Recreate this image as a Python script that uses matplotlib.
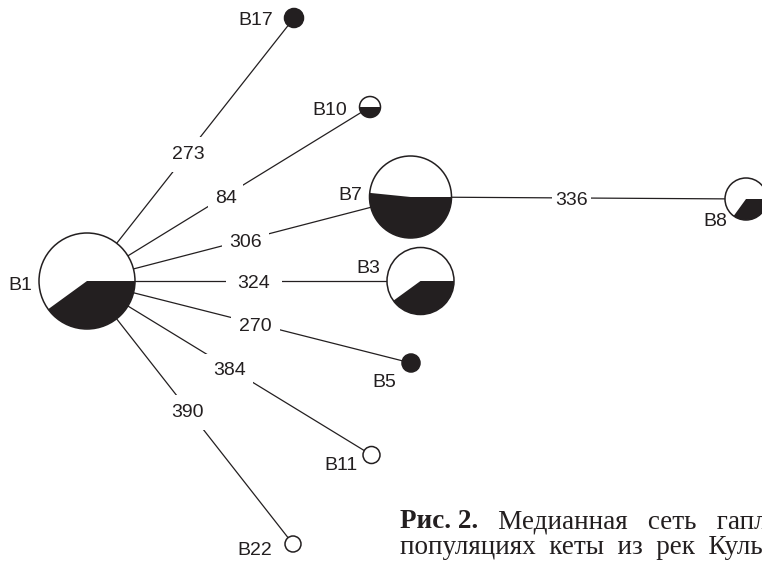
import matplotlib
matplotlib.use("Agg")
import matplotlib.pyplot as plt
from matplotlib.patches import Wedge, Circle

# ---- data -------------------------------------------------------------
names = ["B1", "B7", "B3", "B8", "B10", "B17", "B5", "B11", "B22"]
node_x = [87, 410.5, 420.5, 746, 370, 294, 411, 371.5, 293]
node_y = [281, 197, 281, 199, 107, 18, 363, 455, 544]
node_r = [48, 41, 33.5, 21, 10.5, 9.5, 9, 8.5, 8]
dark_frac = [0.40, 0.516, 0.40, 0.35, 0.50, 1.0, 1.0, 0.0, 0.0]

edge_from = ["B1", "B1", "B1", "B1", "B1", "B1", "B1", "B7"]
edge_to = ["B17", "B10", "B7", "B3", "B5", "B11", "B22", "B8"]
edge_len = [273, 84, 306, 324, 270, 384, 390, 336]

caption_bold = "Рис. 2."
caption_rest1 = "   Медианная   сеть   гаплотипов"
caption_line2 = "популяциях  кеты  из  рек  Культучная"

# ---- layout / style ---------------------------------------------------
edge_t = [0.49, 0.49, 0.49, 0.50, 0.52, 0.50, 0.49, 0.48]
edge_pad = [0.45, 0.35, 0.35, 0.6, 0.4, 0.4, 0.45, 0.15]
# name label offsets (dx, dy to glyph centre) and alignment
lab_dx = [-55, -48.5, -52.5, -31, -23, -21, -27, -13.5, -21]
lab_dy = [2, -4, -15, 20, 1, 0, 17, 8, 4]
lab_ha = ["right", "right", "center", "center", "right", "right", "center", "right", "right"]

DARK = "#231f20"
SANS = "Liberation Sans"
SERIF = "Liberation Serif"
FS = 14
CAP = 7  # half cap-height in px for vertical centring
CAP_FS = 19.5

W, H = 762, 561
fig = plt.figure(figsize=(W / 100, H / 100), dpi=100)
ax = fig.add_axes([0, 0, 1, 1])
ax.set_xlim(0, W)
ax.set_ylim(H, 0)
ax.axis("off")

idx = {n: i for i, n in enumerate(names)}

# edges
for a, b, val, t, pad in zip(edge_from, edge_to, edge_len, edge_t, edge_pad):
    i, j = idx[a], idx[b]
    x0, y0, x1, y1 = node_x[i], node_y[i], node_x[j], node_y[j]
    ax.plot([x0, x1], [y0, y1], color=DARK, lw=0.9, zorder=1,
            solid_capstyle="butt")
    xm = x0 + (x1 - x0) * t
    ym = y0 + (y1 - y0) * t
    ax.text(xm, ym + CAP, str(val), fontsize=FS, family=SANS, color=DARK,
            ha="center", va="baseline", zorder=3,
            bbox=dict(boxstyle=f"square,pad={pad}", fc="white", ec="none"))

# nodes (pies)
for n, x, y, r, f in zip(names, node_x, node_y, node_r, dark_frac):
    ax.add_patch(Circle((x, y), r, fc="white", ec="none", zorder=4))
    if f > 0:
        ax.add_patch(Wedge((x, y), r, 0, 360 * f, fc=DARK, ec="none", zorder=5))
    ax.add_patch(Circle((x, y), r, fc="none", ec=DARK, lw=1.1, zorder=6))

# node labels
for n, x, y, dx, dy, ha in zip(names, node_x, node_y, lab_dx, lab_dy, lab_ha):
    ax.text(x + dx, y + dy + CAP, n, fontsize=FS, family=SANS, color=DARK,
            ha=ha, va="baseline", zorder=7)

# caption (cut by the right edge, as in the source page)
t1 = ax.text(400, 528, caption_bold, fontsize=CAP_FS, family=SERIF,
             fontweight="bold", color=DARK, ha="left", va="baseline")
ax.annotate(caption_rest1, xy=(1, 0), xycoords=t1, fontsize=CAP_FS,
            family=SERIF, color=DARK, ha="left", va="bottom")
ax.text(400, 554, caption_line2, fontsize=CAP_FS, family=SERIF, color=DARK,
        ha="left", va="baseline")

fig.savefig("out.png", dpi=100)
